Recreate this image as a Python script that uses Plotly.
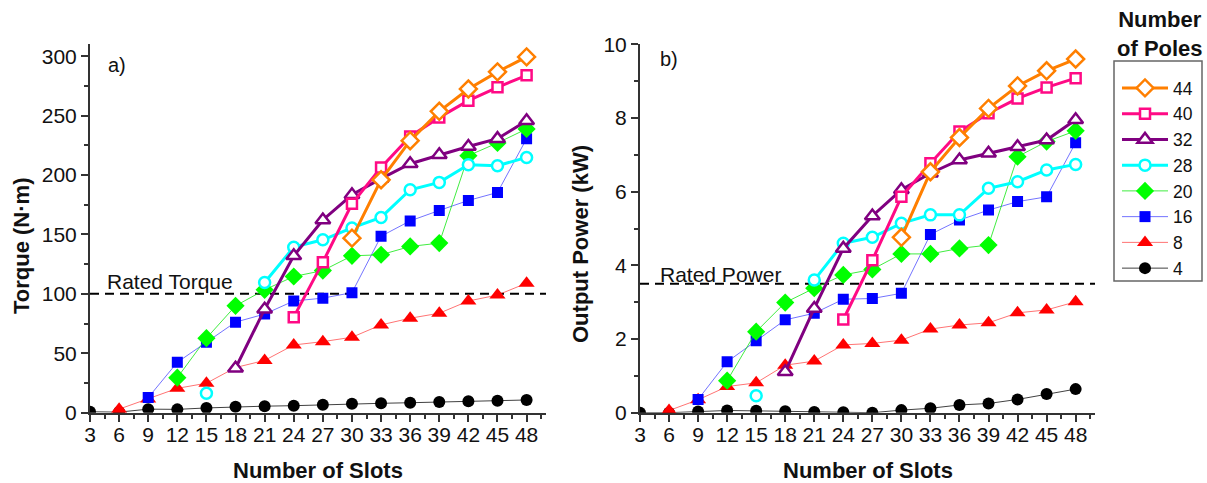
import plotly.graph_objects as go

slots = [3, 6, 9, 12, 15, 18, 21, 24, 27, 30, 33, 36, 39, 42, 45, 48]
N = None

# Torque (N·m), panel a)
torque_4  = [0.8, 0.5, 3, 2.8, 4, 5, 5.5, 5.9, 6.7, 7.6, 7.9, 8.4, 9, 9.6, 10.1, 10.7]
torque_8  = [N, 3, 11.5, 20.5, 24.8, 38, 44, 57, 59.8, 63.5, 73.9, 79.5, 83.7, 94, 99, 109]
torque_16 = [N, N, 12.7, 42.4, 59.3, 76.2, 83, 94, 96.4, 101, 148.5, 161.4, 170.2, 178.6, 185.3, 230.6]
torque_20 = [N, N, N, 29.5, 62.7, 89.9, 103.4, 114.6, 119.6, 132, 132.9, 139.9, 142.7, 216.3, 227, 238.8]
torque_28 = [N, N, N, N, 16.3, N, 109.5, 139.3, 145.5, 155.5, 164.3, 187.6, 193.8, 208.7, 207.8, 214.8]
torque_32 = [N, N, N, N, N, 37.4, 87.1, 132, 162.2, 183.4, 197, 209.5, 217, 224, 230.6, 245.7]
torque_40 = [N, N, N, N, N, N, N, 80.4, 126.7, 175.8, 206.4, 232.5, 248.5, 262.6, 273.8, 283.9]
torque_44 = [N, N, N, N, N, N, N, N, N, 146.9, 196, 228.9, 253.6, 272.4, 286.8, 299.4]

# Output power (kW), panel b)
power_4  = [0, 0, 0.03, 0.06, 0.05, 0.04, 0.02, 0.01, 0.0, 0.07, 0.12, 0.21, 0.25, 0.36, 0.51, 0.64]
power_8  = [N, 0.06, 0.35, 0.71, 0.81, 1.29, 1.40, 1.84, 1.88, 1.97, 2.27, 2.38, 2.44, 2.71, 2.79, 3.01]
power_16 = [N, N, 0.36, 1.38, 1.95, 2.52, 2.70, 3.08, 3.10, 3.24, 4.84, 5.23, 5.50, 5.73, 5.86, 7.33]
power_20 = [N, N, N, 0.87, 2.20, 2.99, 3.38, 3.74, 3.89, 4.31, 4.31, 4.46, 4.55, 6.95, 7.36, 7.65]
power_28 = [N, N, N, N, 0.46, N, 3.60, 4.60, 4.76, 5.14, 5.37, 5.37, 6.09, 6.27, 6.59, 6.74]
power_32 = [N, N, N, N, N, 1.11, 2.83, 4.46, 5.34, 6.05, 6.5, 6.86, 7.04, 7.22, 7.40, 7.95]
power_40 = [N, N, N, N, N, N, N, 2.53, 4.14, 5.86, 6.77, 7.63, 8.13, 8.53, 8.83, 9.08]
power_44 = [N, N, N, N, N, N, N, N, N, 4.76, 6.54, 7.47, 8.26, 8.87, 9.28, 9.60]

poles = ["4", "8", "16", "20", "28", "32", "40", "44"]
torque = [torque_4, torque_8, torque_16, torque_20, torque_28, torque_32, torque_40, torque_44]
power = [power_4, power_8, power_16, power_20, power_28, power_32, power_40, power_44]

rated_torque = 100
rated_power = 3.5

styles = {
    "4":  dict(line=dict(color="rgba(0,0,0,0.75)", width=1),
               marker=dict(symbol="circle", size=12, color="black", line=dict(width=0))),
    "8":  dict(line=dict(color="rgba(255,0,0,0.55)", width=1),
               marker=dict(symbol="triangle-up", size=14, color="#FF0000", line=dict(width=0))),
    "16": dict(line=dict(color="rgba(0,0,255,0.55)", width=1),
               marker=dict(symbol="square", size=11, color="#0000FF", line=dict(width=0))),
    "20": dict(line=dict(color="rgba(0,230,0,0.75)", width=1),
               marker=dict(symbol="diamond", size=14, color="#00FF00", line=dict(width=0))),
    "28": dict(line=dict(color="#00FFFF", width=3),
               marker=dict(symbol="circle", size=11, color="white", line=dict(color="#00FFFF", width=2.5))),
    "32": dict(line=dict(color="#800080", width=3),
               marker=dict(symbol="triangle-up", size=13, color="white", line=dict(color="#800080", width=2.5))),
    "40": dict(line=dict(color="#FF0A85", width=3),
               marker=dict(symbol="square", size=10, color="white", line=dict(color="#FF0A85", width=2.5))),
    "44": dict(line=dict(color="#FF7F00", width=3),
               marker=dict(symbol="diamond", size=13, color="white", line=dict(color="#FF7F00", width=2.5))),
}

fig = go.Figure()
for p, t in zip(poles, torque):
    fig.add_trace(go.Scatter(x=slots, y=t, mode="lines+markers", name=p, legendgroup=p,
                             connectgaps=False, xaxis="x", yaxis="y", **styles[p]))
for p, w in zip(poles, power):
    fig.add_trace(go.Scatter(x=slots, y=w, mode="lines+markers", name=p, legendgroup=p,
                             showlegend=False, connectgaps=False, xaxis="x2", yaxis="y2", **styles[p]))

FONT = "Liberation Sans, Arial, sans-serif"
W, H = 1207, 483
ydom = [1 - 412.7 / H, 1 - 44.3 / H]

axis_common = dict(showline=True, linecolor="#333", linewidth=2, ticks="outside", ticklen=7,
                   tickwidth=2, tickcolor="#333", showgrid=False, zeroline=False, automargin=False,
                   tickfont=dict(family=FONT, size=21, color="#111"))

xaxis_common = dict(axis_common, range=[3, 50], tick0=3, dtick=3, ticklabelstandoff=-5,
                    minor=dict(dtick=1.5, tick0=3, ticks="outside", ticklen=4, tickwidth=1.5, tickcolor="#333"))

fig.update_layout(
    width=W, height=H,
    margin=dict(l=0, r=0, t=0, b=0),
    paper_bgcolor="white", plot_bgcolor="white",
    font=dict(family=FONT, color="#111"),
    xaxis=dict(xaxis_common, domain=[90 / W, 546 / W], anchor="y"),
    yaxis=dict(axis_common, domain=ydom, range=[0, 310], tick0=0, dtick=50, anchor="x",
               minor=dict(dtick=25, ticks="outside", ticklen=4, tickwidth=1.5, tickcolor="#333")),
    xaxis2=dict(xaxis_common, domain=[640 / W, 1095 / W], anchor="y2"),
    yaxis2=dict(axis_common, domain=ydom, range=[0, 10], tick0=0, dtick=2, anchor="x2",
                minor=dict(dtick=1, ticks="outside", ticklen=4, tickwidth=1.5, tickcolor="#333")),
    legend=dict(x=1117 / W, y=1 - 70 / H, xanchor="left", yanchor="top",
                traceorder="reversed", borderwidth=0,
                font=dict(family=FONT, size=17.5, color="#111"), itemwidth=46,
                bgcolor="rgba(0,0,0,0)"),
    showlegend=True,
)

# legend frame
fig.add_shape(type="rect", xref="paper", yref="paper", x0=1114 / W, x1=1202 / W,
              y0=1 - 281 / H, y1=1 - 61 / H, line=dict(color="#666", width=1.5),
              fillcolor="rgba(0,0,0,0)", layer="below")

fig.add_shape(type="line", xref="x", yref="y", x0=3, x1=50, y0=rated_torque, y1=rated_torque,
              line=dict(color="black", width=2, dash="9px,6px"), layer="below")
fig.add_shape(type="line", xref="x2", yref="y2", x0=3, x1=50, y0=rated_power, y1=rated_power,
              line=dict(color="black", width=2, dash="9px,6px"), layer="below")

ann = [
    dict(text="Rated Torque", xref="x", yref="y", x=4.5, y=110.5, xanchor="left", yanchor="middle",
         font=dict(size=21)),
    dict(text="Rated Power", xref="x2", yref="y2", x=4.9, y=3.74, xanchor="left", yanchor="middle",
         font=dict(size=21)),
    dict(text="a)", xref="x", yref="y", x=4.7, y=293, xanchor="left", yanchor="middle", font=dict(size=20)),
    dict(text="b)", xref="x2", yref="y2", x=4.9, y=9.6, xanchor="left", yanchor="middle", font=dict(size=20)),
    dict(text="<b>Torque (N·m)</b>", xref="paper", yref="paper", x=22 / W, y=1 - 246 / H,
         textangle=-90, xanchor="center", yanchor="middle", font=dict(size=22)),
    dict(text="<b>Output Power (kW)</b>", xref="paper", yref="paper", x=580 / W, y=1 - 244 / H,
         textangle=-90, xanchor="center", yanchor="middle", font=dict(size=22)),
    dict(text="<b>Number of Slots</b>", xref="paper", yref="paper", x=318 / W, y=1 - 470 / H,
         xanchor="center", yanchor="middle", font=dict(size=22)),
    dict(text="<b>Number of Slots</b>", xref="paper", yref="paper", x=868 / W, y=1 - 470 / H,
         xanchor="center", yanchor="middle", font=dict(size=22)),
    dict(text="<b>Number<br>of Poles</b>", xref="paper", yref="paper", x=1160 / W, y=1 - 34 / H,
         xanchor="center", yanchor="middle", font=dict(size=22)),
]
for a in ann:
    a.setdefault("showarrow", False)
    a["font"] = dict(family=FONT, color="#111", **a["font"])
    fig.add_annotation(**a)

fig.write_html("out.html")
